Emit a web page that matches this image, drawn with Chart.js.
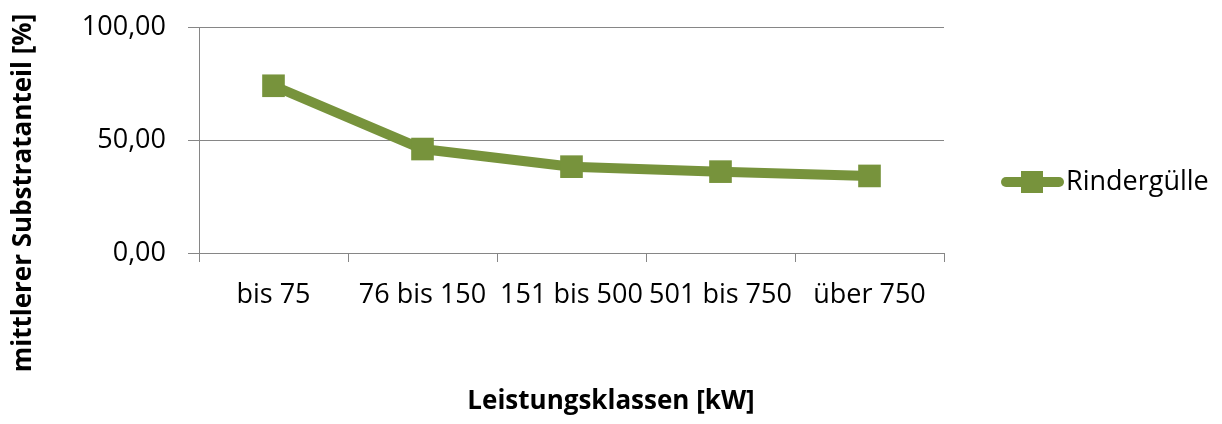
<!DOCTYPE html>
<html>
<head>
<meta charset="utf-8">
<script src="https://cdn.jsdelivr.net/npm/chart.js@4.4.1/dist/chart.umd.min.js"></script>
<style>
html,body{margin:0;padding:0;background:#fff;}
#wrap{width:1222px;height:424px;position:relative;}
</style>
</head>
<body>
<div id="wrap"><canvas id="c" width="1222" height="424"></canvas></div>
<script>
const categories = ["bis 75", "76 bis 150", "151 bis 500", "501 bis 750", "über 750"];
const rindergulle = [74.0, 46.0, 38.2, 36.0, 34.1];
const seriesName = "Rindergülle";
const yTicks = [0, 50, 100];
const xTitle = "Leistungsklassen [kW]";
const yTitle = "mittlerer Substratanteil [%]";

const GREEN = "#77933C";
const GRID = "#868686";
const FONT = "'Open Sans', sans-serif";

const overlay = {
  id: "overlay",
  afterDraw(chart) {
    const ctx = chart.ctx;
    ctx.save();
    ctx.fillStyle = "#000";
    ctx.font = "bold 26px " + FONT;
    ctx.textAlign = "center";
    ctx.textBaseline = "middle";
    ctx.fillText(xTitle, 611, 402);
    ctx.translate(24, 193);
    ctx.rotate(-Math.PI / 2);
    ctx.fillText(yTitle, 0, 0);
    ctx.restore();
    ctx.save();
    const ly = 182;
    ctx.strokeStyle = GREEN;
    ctx.lineWidth = 10;
    ctx.lineCap = "round";
    ctx.beginPath();
    ctx.moveTo(1006, ly);
    ctx.lineTo(1059, ly);
    ctx.stroke();
    ctx.fillStyle = GREEN;
    ctx.fillRect(1032 - 11, ly - 11, 22, 22);
    ctx.fillStyle = "#000";
    ctx.font = "27px " + FONT;
    ctx.textAlign = "left";
    ctx.textBaseline = "middle";
    ctx.fillText(seriesName, 1066, ly);
    ctx.restore();
  }
};

new Chart(document.getElementById("c"), {
  type: "line",
  data: {
    labels: categories,
    datasets: [{
      label: seriesName,
      data: rindergulle,
      borderColor: GREEN,
      backgroundColor: GREEN,
      borderWidth: 10,
      pointStyle: "rect",
      pointRadius: 16,
      pointHoverRadius: 16,
      pointBorderWidth: 0,
      tension: 0,
      fill: false
    }]
  },
  options: {
    responsive: false,
    animation: false,
    events: [],
    layout: { padding: { left: 0, right: 278, top: 27, bottom: 0 } },
    plugins: { legend: { display: false }, tooltip: { enabled: false } },
    scales: {
      x: {
        offset: true,
        grid: { display: true, drawOnChartArea: false, drawTicks: true, tickLength: 9, color: GRID, offset: true },
        border: { display: true, color: GRID, width: 1 },
        ticks: { font: { family: FONT, size: 27 }, color: "#000", padding: 17, maxRotation: 0, autoSkip: false },
        afterFit(s) { s.height = 171; s.paddingLeft = 0; s.paddingRight = 0; }
      },
      y: {
        min: 0, max: 100,
        afterBuildTicks(s) { s.ticks = yTicks.map(v => ({ value: v })); },
        grid: { color: GRID, tickLength: 11, lineWidth: 1 },
        border: { display: true, color: GRID, width: 1 },
        ticks: {
          font: { family: FONT, size: 27 }, color: "#000", padding: 22,
          callback: v => v.toFixed(2).replace(".", ",")
        },
        afterFit(s) { s.width = 199; s.paddingTop = 0; s.paddingBottom = 0; }
      }
    }
  },
  plugins: [overlay]
});
</script>
</body>
</html>
